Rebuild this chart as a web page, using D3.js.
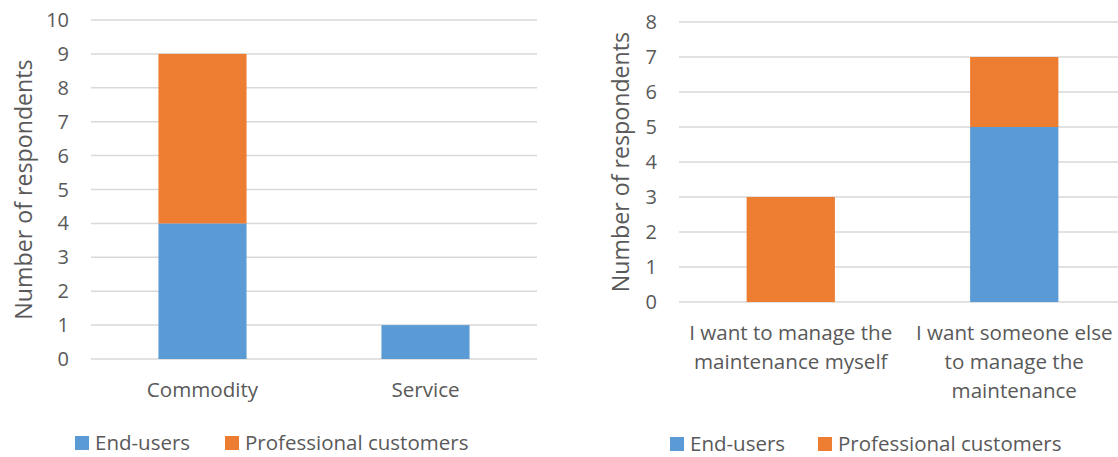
<!DOCTYPE html>
<html>
<head>
<meta charset="utf-8">
<script src="https://cdn.jsdelivr.net/npm/d3@7"></script>
<style>
  body { margin: 0; background: #fff; }
  svg text { font-family: "Open Sans", Lato, sans-serif; fill: #595959; }
</style>
</head>
<body>
<div class="canvas"></div>
<script>
// data
var seriesNames = ["End-users", "Professional customers"]
var seriesColors = ["#5b9bd5", "#ed7d31"]

var leftCategories = [["Commodity"], ["Service"]]
var leftEndUsers = [4, 1]
var leftProfessional = [5, 0]
var leftTicks = [0, 1, 2, 3, 4, 5, 6, 7, 8, 9, 10]

var rightCategories = [["I want to manage the", "maintenance myself"],
                       ["I want someone else", "to manage the", "maintenance"]]
var rightEndUsers = [0, 5]
var rightProfessional = [3, 2]
var rightTicks = [0, 1, 2, 3, 4, 5, 6, 7, 8]

var svg = d3.select(".canvas").append("svg").attr("width", 1118).attr("height", 457)

function drawPanel(p) {
    var rows = p.categories.map(function(c, i) {
        return {cat: i, end: p.endUsers[i], pro: p.professional[i]}
    })
    var stack = d3.stack().keys(["end", "pro"])(rows)

    var x = d3.scaleBand()
        .domain(p.categories.map(function(c, i) { return i }))
        .range([p.x0, p.x1])
        .paddingInner(0.605)
        .paddingOuter(0.3025)

    var y = d3.scaleLinear()
        .domain([0, d3.max(p.ticks)])
        .range([p.y0, p.y1])

    var g = svg.append("g")

    // gridlines
    g.selectAll(".grid").data(p.ticks).enter().append("line")
        .attr("x1", p.x0)
        .attr("x2", p.x1)
        .attr("y1", function(d) { return y(d) })
        .attr("y2", function(d) { return y(d) })
        .attr("stroke", "#d9d9d9")
        .attr("stroke-width", 1.5)

    // tick labels
    g.selectAll(".tick").data(p.ticks).enter().append("text")
        .attr("x", p.x0 - 22)
        .attr("y", function(d) { return y(d) })
        .attr("dy", "0.35em")
        .attr("text-anchor", "end")
        .attr("font-size", 20)
        .text(function(d) { return d })

    // bars
    stack.forEach(function(s, k) {
        g.selectAll(".bar" + k).data(s).enter().append("rect")
            .attr("x", function(d) { return x(d.data.cat) })
            .attr("width", x.bandwidth())
            .attr("y", function(d) { return y(d[1]) })
            .attr("height", function(d) { return y(d[0]) - y(d[1]) })
            .attr("fill", seriesColors[k])
    })

    // category labels
    p.categories.forEach(function(lines, i) {
        var t = g.append("text")
            .attr("text-anchor", "middle")
            .attr("font-size", 20.6)
        lines.forEach(function(line, j) {
            t.append("tspan")
                .attr("x", x(i) + x.bandwidth() / 2)
                .attr("y", p.labelY + j * 29)
                .attr("dy", "0.35em")
                .text(line)
        })
    })

    // y axis title
    g.append("text")
        .attr("transform", "translate(" + p.titleX + "," + ((p.y0 + p.y1) / 2) + ") rotate(-90)")
        .attr("text-anchor", "middle")
        .attr("dy", "0.35em")
        .attr("font-size", 23.2)
        .text("Number of respondents")

    // legend
    seriesNames.forEach(function(name, k) {
        g.append("rect")
            .attr("x", p.legendX[k])
            .attr("y", p.legendY - 7)
            .attr("width", 14)
            .attr("height", 14)
            .attr("fill", seriesColors[k])
        g.append("text")
            .attr("x", p.legendX[k] + 20)
            .attr("y", p.legendY)
            .attr("dy", "0.35em")
            .attr("font-size", 20.5)
            .text(name)
    })
}

drawPanel({
    categories: leftCategories, endUsers: leftEndUsers, professional: leftProfessional,
    ticks: leftTicks, x0: 91, x1: 537, y0: 359, y1: 20,
    labelY: 390, titleX: 24, legendX: [75, 225], legendY: 443
})

drawPanel({
    categories: rightCategories, endUsers: rightEndUsers, professional: rightProfessional,
    ticks: rightTicks, x0: 679, x1: 1126, y0: 302, y1: 22,
    labelY: 333, titleX: 621, legendX: [670, 818], legendY: 444
})
</script>
</body>
</html>
